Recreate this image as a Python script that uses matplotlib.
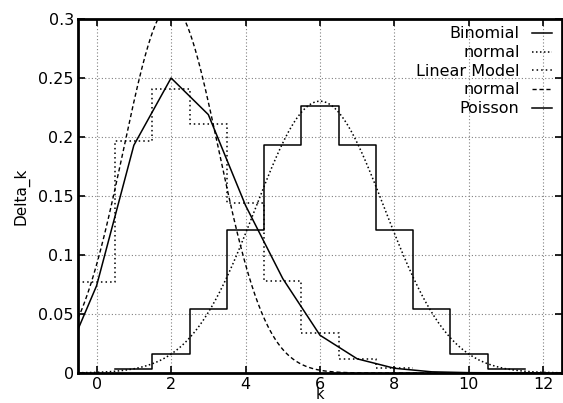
import numpy as np
import matplotlib.pyplot as plt

plt.rcParams['font.family'] = ['DejaVu Sans']

# Binomial (histogram steps), k = 1..11
k_binom = np.arange(1, 12)
p_binom = [0.003, 0.016, 0.054, 0.121, 0.193, 0.226, 0.193, 0.121, 0.054, 0.016, 0.003]

# Linear Model (histogram steps), k = 0..8
k_lin = np.arange(0, 9)
p_lin = [0.077, 0.197, 0.241, 0.211, 0.144, 0.078, 0.034, 0.012, 0.004]

# Poisson (line through points), k = -1..12
k_pois = np.arange(-1, 13)
p_pois = [0.0, 0.074, 0.193, 0.250, 0.219, 0.142, 0.080, 0.032, 0.012,
          0.004, 0.001, 0.0003, 0.0001, 0.0]

# normal curves: (mean, sigma)
norm1_mu, norm1_sd = 6.0, 1.732
norm2_mu, norm2_sd = 2.0, 1.28


def normal(x, mu, sd):
    return np.exp(-(x - mu) ** 2 / (2 * sd ** 2)) / (sd * np.sqrt(2 * np.pi))


def histeps(ax, k, p, **kw):
    xs = np.repeat(np.append(k - 0.5, k[-1] + 0.5), 2)[1:-1]
    ys = np.repeat(p, 2)
    return ax.plot(xs, ys, **kw)


fig = plt.figure(figsize=(5.63, 4.03), dpi=100)
ax = fig.add_axes([78 / 563, 30 / 403, 484 / 563, 354 / 403])

x = np.linspace(-0.5, 12.5, 600)
dot = (0, (1, 1.6))
histeps(ax, k_binom, p_binom, color='black', lw=1.1, label='Binomial')
ax.plot(x, normal(x, norm1_mu, norm1_sd), color='black', lw=1.1, ls=dot, label='normal')
histeps(ax, k_lin, p_lin, color='black', lw=1.1, ls=(0, (1, 2)), label='Linear Model')
ax.plot(x, normal(x, norm2_mu, norm2_sd), color='black', lw=1.0, ls=(0, (3, 2)), label='normal')
ax.plot(k_pois, p_pois, color='black', lw=1.1, label='Poisson')

ax.set_xlim(-0.5, 12.5)
ax.set_ylim(0, 0.3)
ax.set_xticks(np.arange(0, 13, 2))
ax.set_yticks(np.arange(0, 0.31, 0.05))
ax.set_yticklabels(['0', '0.05', '0.1', '0.15', '0.2', '0.25', '0.3'])
ax.grid(True, color='0.5', lw=0.8, ls=(0, (1, 2)))
ax.tick_params(direction='in', length=5, width=1.2, top=True, right=True,
               labelsize=11.5, pad=3)
for s in ax.spines.values():
    s.set_linewidth(2)

ax.set_xlabel('k', fontsize=10.5, labelpad=-4)
ax.set_ylabel('Delta_k', fontsize=11, labelpad=6)

ax.legend(loc='upper right', bbox_to_anchor=(0.98, 0.979), frameon=False,
          markerfirst=False, fontsize=11.5, handlelength=1.25, handletextpad=0.8,
          labelspacing=0.23, borderaxespad=0, borderpad=0)

plt.savefig('out.png', dpi=100)
